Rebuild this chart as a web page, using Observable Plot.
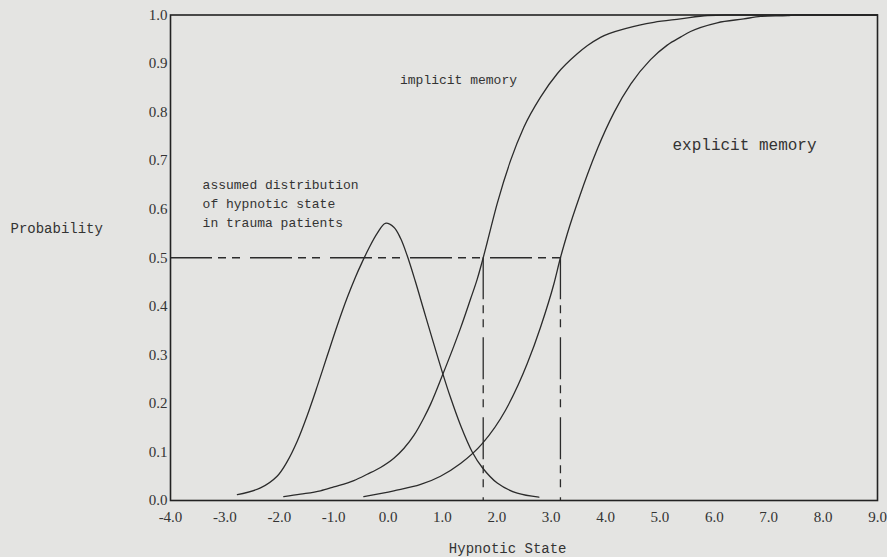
<!DOCTYPE html>
<html>
<head>
<meta charset="utf-8">
<script src="https://cdn.jsdelivr.net/npm/d3@7"></script>
<script src="https://cdn.jsdelivr.net/npm/@observablehq/plot@0.6"></script>
<style>
  html, body { margin: 0; padding: 0; background: #e4e4e2; }
  #chart svg { display: block; background: transparent; }
</style>
</head>
<body>
<div id="chart"></div>
<script>
const xTicks = [-4, -3, -2, -1, 0, 1, 2, 3, 4, 5, 6, 7, 8, 9];
const yTicks = [0, 0.1, 0.2, 0.3, 0.4, 0.5, 0.6, 0.7, 0.8, 0.9, 1.0];

const gaussX = [-2.77, -2.345, -2.04, -1.855, -1.67, -1.486, -1.302, -1.118, -0.935, -0.75, -0.6, -0.48, -0.35, -0.2, -0.05, 0.107, 0.23, 0.35, 0.5, 0.65, 0.8, 0.996, 1.149, 1.333, 1.548, 1.732, 2.008, 2.376, 2.773];
const gaussY = [0.012, 0.026, 0.050, 0.080, 0.122, 0.175, 0.235, 0.298, 0.360, 0.418, 0.460, 0.490, 0.520, 0.550, 0.571, 0.563, 0.540, 0.505, 0.452, 0.395, 0.338, 0.265, 0.212, 0.155, 0.100, 0.068, 0.036, 0.015, 0.007];

const implicitX = [-1.917, -1.61, -1.242, -0.997, -0.629, -0.383, -0.138, 0.107, 0.29, 0.475, 0.658, 0.781, 1.0, 1.21, 1.333, 1.517, 1.64, 1.75, 1.824, 2.008, 2.252, 2.497, 2.804, 3.111, 3.479, 3.668, 3.907, 4.398, 4.888, 5.378, 5.875, 6.2, 7.0, 8.0, 9.0];
const implicitY = [0.008, 0.013, 0.020, 0.028, 0.041, 0.054, 0.068, 0.087, 0.107, 0.134, 0.170, 0.198, 0.258, 0.318, 0.355, 0.415, 0.456, 0.500, 0.532, 0.612, 0.700, 0.769, 0.831, 0.879, 0.920, 0.937, 0.954, 0.973, 0.985, 0.992, 0.999, 1.0, 1.0, 1.0, 1.0];

const explicitX = [-0.445, 0.107, 0.6, 0.965, 1.333, 1.732, 2.16, 2.56, 2.804, 3.049, 3.17, 3.295, 3.54, 3.668, 3.852, 4.159, 4.465, 4.827, 5.134, 5.385, 5.562, 6.053, 6.543, 6.85, 7.35, 7.5, 8.0, 9.0];
const explicitY = [0.008, 0.020, 0.033, 0.050, 0.076, 0.117, 0.186, 0.282, 0.357, 0.446, 0.500, 0.549, 0.632, 0.672, 0.725, 0.800, 0.858, 0.908, 0.938, 0.955, 0.966, 0.984, 0.992, 0.997, 0.999, 1.0, 1.0, 1.0];

const threshold = [0.5];
const cutoffs = [1.75, 3.17];

const gauss = gaussX.map((x, i) => ({x, y: gaussY[i]}));
const implicit = implicitX.map((x, i) => ({x, y: implicitY[i]}));
const explicit = explicitX.map((x, i) => ({x, y: explicitY[i]}));

const ink = "#2b2b2b";
const dash = "42,6,8,6,8,10";
const fmt = d => d.toFixed(1);
const mono = "'Liberation Mono', monospace";

const chart = Plot.plot({
  width: 887,
  height: 557,
  marginLeft: 170,
  marginRight: 10,
  marginTop: 14.5,
  marginBottom: 57,
  style: {fontFamily: "'Liberation Serif', serif", fontSize: "15px", color: "#333", background: "transparent", overflow: "visible"},
  x: {domain: [-4, 9]},
  y: {domain: [0, 1]},
  marks: [
    Plot.axisX({ticks: xTicks, tickFormat: fmt, tickSize: 0, tickPadding: 11, label: null}),
    Plot.axisY({ticks: yTicks, tickFormat: fmt, tickSize: 0, tickPadding: 3, label: null}),
    Plot.ruleY(threshold, {x1: -4, x2: cutoffs[1], stroke: ink, strokeWidth: 1.3, strokeDasharray: dash}),
    Plot.ruleX(cutoffs, {y1: threshold[0], y2: 0, stroke: ink, strokeWidth: 1.3, strokeDasharray: dash}),
    Plot.line(gauss, {x: "x", y: "y", curve: "catmull-rom", stroke: ink, strokeWidth: 1.3}),
    Plot.line(implicit, {x: "x", y: "y", curve: "monotone-x", stroke: ink, strokeWidth: 1.3}),
    Plot.line(explicit, {x: "x", y: "y", curve: "monotone-x", stroke: ink, strokeWidth: 1.3}),
    Plot.frame({stroke: "#222", strokeWidth: 1.6}),
    Plot.text(["implicit memory"], {x: 1.296, y: 0.867, fontFamily: mono, fontSize: 13, fill: "#333", letterSpacing: "-0.7px"}),
    Plot.text(["explicit memory"], {x: 6.555, y: 0.733, fontFamily: mono, fontSize: 16, fill: "#333"}),
    Plot.text(["assumed distribution\nof hypnotic state\nin trauma patients"], {x: -3.41, y: 0.614, textAnchor: "start", lineAnchor: "middle", lineHeight: 1.46, fontFamily: mono, fontSize: 13, fill: "#333", letterSpacing: "-0.7px"}),
    Plot.text(["Probability"], {x: -4, y: 0.56, dx: -160, textAnchor: "start", fontFamily: mono, fontSize: 14, fill: "#333", letterSpacing: "0.2px"}),
    Plot.text(["Hypnotic State"], {x: 2.2, y: 0, dy: 48, fontFamily: mono, fontSize: 14, fill: "#333", letterSpacing: "0.2px"})
  ]
});

document.getElementById("chart").append(chart);
</script>
</body>
</html>
